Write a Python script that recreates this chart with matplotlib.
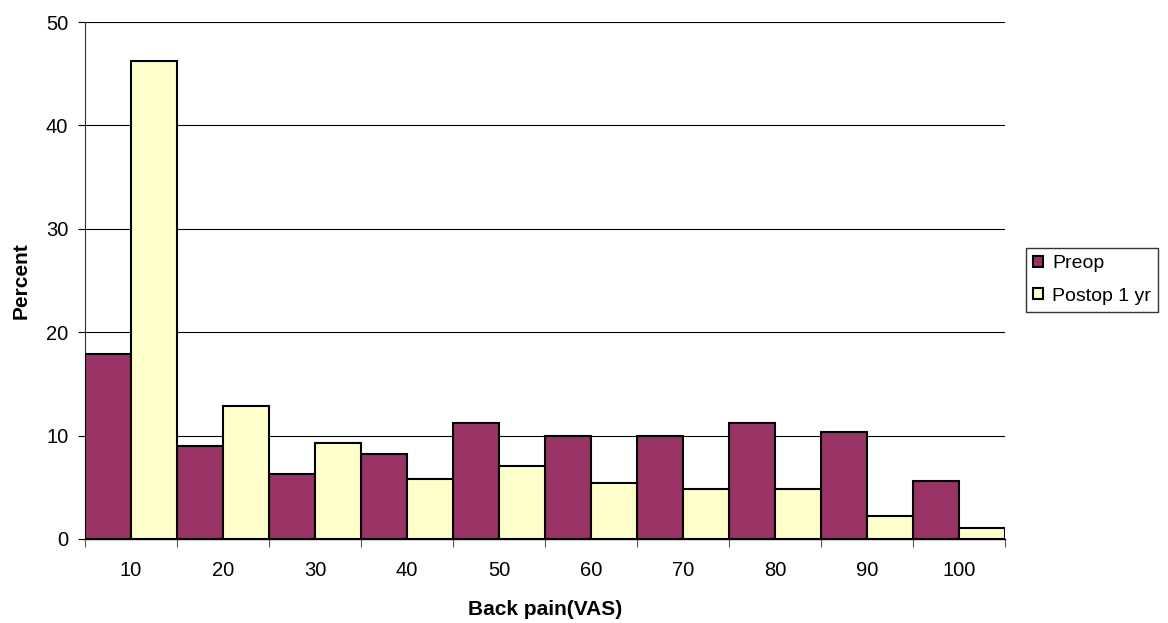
import numpy as np
import matplotlib.pyplot as plt

plt.rcParams['font.family'] = ['Liberation Sans', 'DejaVu Sans']

categories = ['10', '20', '30', '40', '50', '60', '70', '80', '90', '100']
preop = [17.9, 9.0, 6.3, 8.25, 11.2, 10.0, 10.0, 11.25, 10.3, 5.6]
postop = [46.2, 12.9, 9.3, 5.8, 7.1, 5.4, 4.8, 4.8, 2.2, 1.1]

index = np.arange(len(categories))

fig = plt.figure(figsize=(11.68, 6.23), dpi=100)
ax = fig.add_axes([85 / 1168, 84 / 623, 920 / 1168, 517 / 623])

ax.bar(index - 0.25, preop, width=0.5, color='#993366', edgecolor='black', linewidth=1.5,
       label='Preop', zorder=3)
ax.bar(index + 0.25, postop, width=0.5, color='#FFFFCC', edgecolor='black', linewidth=1.5,
       label='Postop 1 yr', zorder=3)

ax.set_xlim(-0.5, len(categories) - 0.5)
ax.set_ylim(0, 50)
ax.set_yticks(np.arange(0, 51, 10))
ax.yaxis.grid(True, color='black', linewidth=0.8, zorder=0)

# major ticks at group boundaries, labels on minor ticks at group centres
ax.set_xticks(np.arange(-0.5, len(categories), 1.0))
ax.set_xticklabels([])
ax.set_xticks(index, minor=True)
ax.set_xticklabels(categories, minor=True)
ax.tick_params(axis='x', which='minor', length=0, pad=16, labelsize=14.5)
ax.tick_params(axis='x', which='major', length=6, width=0.8, color='#555555')
ax.tick_params(axis='y', length=5, width=0.8, labelsize=14.5, pad=7)

for s in ['top', 'right']:
    ax.spines[s].set_visible(False)
ax.spines['left'].set_color('#333333')
ax.spines['bottom'].set_color('black')
ax.spines['bottom'].set_linewidth(1.0)

ax.set_xlabel('Back pain(VAS)', fontsize=15, fontweight='bold', labelpad=14)
ax.set_ylabel('Percent', fontsize=15, fontweight='bold', labelpad=11)

leg = fig.legend(loc='center left', bbox_to_anchor=(1026 / 1168, (623 - 280) / 623),
                 fontsize=14, frameon=True, fancybox=False, edgecolor='black',
                 handlelength=0.5, handleheight=0.5, handletextpad=0.5,
                 borderpad=0.35, labelspacing=0.8, borderaxespad=0)
leg.get_frame().set_linewidth(1.0)

fig.savefig('out.png', dpi=100)
